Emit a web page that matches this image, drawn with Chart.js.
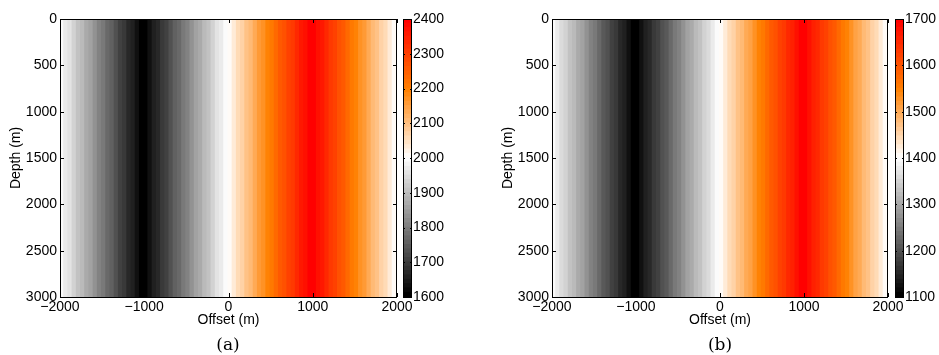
<!DOCTYPE html>
<html><head><meta charset="utf-8">
<script src="https://cdn.jsdelivr.net/npm/chart.js@4/dist/chart.umd.min.js"></script>
<style>
html,body{margin:0;padding:0;background:#fff;width:939px;height:355px;overflow:hidden;position:relative;}
canvas{position:absolute;top:0;}
.cap{position:absolute;font-family:"DejaVu Serif",serif;font-size:17px;line-height:17px;color:#000;transform:translateX(-50%);white-space:nowrap;}
</style></head><body>
<canvas id="pa" style="left:0px" width="420" height="340"></canvas>
<canvas id="ca" style="left:400px" width="60" height="340"></canvas>
<canvas id="pb" style="left:492px" width="420" height="340"></canvas>
<canvas id="cb" style="left:892px" width="47" height="340"></canvas>
<div class="cap" style="left:228px;top:336px">(a)</div>
<div class="cap" style="left:720px;top:336px">(b)</div>
<script>
// ---- data ----
const offsets = [-1975,-1925,-1875,-1825,-1775,-1725,-1675,-1625,-1575,-1525,-1475,-1425,-1375,-1325,-1275,-1225,-1175,-1125,-1075,-1025,
  -975,-925,-875,-825,-775,-725,-675,-625,-575,-525,-475,-425,-375,-325,-275,-225,-175,-125,-75,-25,
  25,75,125,175,225,275,325,375,425,475,525,575,625,675,725,775,825,875,925,975,
  1025,1075,1125,1175,1225,1275,1325,1375,1425,1475,1525,1575,1625,1675,1725,1775,1825,1875,1925,1975];
const velocityA = [1990,1970,1950,1930,1910,1890,1870,1850,1830,1810,1790,1770,1750,1730,1710,1690,1670,1650,1630,1610,
  1610,1630,1650,1670,1690,1710,1730,1750,1770,1790,1810,1830,1850,1870,1890,1910,1930,1950,1970,1990,
  2010,2030,2050,2070,2090,2110,2130,2150,2170,2190,2210,2230,2250,2270,2290,2310,2330,2350,2370,2390,
  2390,2370,2350,2330,2310,2290,2270,2250,2230,2210,2190,2170,2150,2130,2110,2090,2070,2050,2030,2010];
const velocityB = [1392,1378,1362,1348,1332,1318,1302,1288,1272,1258,1242,1228,1212,1198,1182,1168,1152,1138,1122,1108,
  1108,1122,1138,1152,1168,1182,1198,1212,1228,1242,1258,1272,1288,1302,1318,1332,1348,1362,1378,1392,
  1408,1422,1438,1452,1468,1482,1498,1512,1528,1542,1558,1572,1588,1602,1618,1632,1648,1662,1678,1692,
  1692,1678,1662,1648,1632,1618,1602,1588,1572,1558,1542,1528,1512,1498,1482,1468,1452,1438,1422,1408];
const depthRange = [0, 3000];
const offsetRange = [-2000, 2000];
const offsetTicks = [-2000, -1000, 0, 1000, 2000];
const depthTicks = [0, 500, 1000, 1500, 2000, 2500, 3000];
const colorRangeA = [1600, 2400];
const colorRangeB = [1100, 1700];
const colorTicksA = [1600, 1700, 1800, 1900, 2000, 2100, 2200, 2300, 2400];
const colorTicksB = [1100, 1200, 1300, 1400, 1500, 1600, 1700];
const NLEV = 64;

Chart.defaults.color = '#000';
Chart.defaults.font.family = '"Liberation Sans", Arial, Helvetica, sans-serif';
Chart.defaults.font.size = 14;

function levelColor(k) {
  const u = k / (NLEV - 1);
  if (u <= 0.5) { const g = Math.round(255 * u / 0.5); return `rgb(${g},${g},${g})`; }
  const t = (u - 0.5) / 0.5;
  return `rgb(255,${Math.round(255 * (1 - t))},${Math.round(255 * Math.max(0, 1 - 2 * t))})`;
}
function valueColor(v, range) {
  const u = (v - range[0]) / (range[1] - range[0]);
  const k = Math.max(0, Math.min(NLEV - 1, Math.floor(u * NLEV)));
  return levelColor(k);
}
const fmt = v => v < 0 ? '\u2212' + Math.abs(v) : String(v);

const framePlugin = {
  id: 'frame',
  afterDraw(chart, args, opts) {
    const { ctx, chartArea: a } = chart;
    ctx.save();
    ctx.strokeStyle = '#000'; ctx.lineWidth = 1;
    ctx.beginPath();
    const L = opts.len;
    if (opts.xTicks) {
      const xs = chart.scales.x;
      opts.xTicks.forEach(v => {
        const p = Math.round(xs.getPixelForValue(v)) + 0.5;
        ctx.moveTo(p, a.bottom); ctx.lineTo(p, a.bottom - L);
        ctx.moveTo(p, a.top); ctx.lineTo(p, a.top + L);
      });
    }
    const ys = chart.scales.y;
    opts.yTicks.forEach(v => {
      const p = Math.round(ys.getPixelForValue(v)) + 0.5;
      ctx.moveTo(a.left, p); ctx.lineTo(a.left + L, p);
      ctx.moveTo(a.right, p); ctx.lineTo(a.right - L, p);
    });
    ctx.stroke();
    ctx.strokeRect(Math.round(a.left) + 0.5, Math.round(a.top) + 0.5, Math.round(a.right - a.left) - 1, Math.round(a.bottom - a.top));
    ctx.restore();
  }
};

function heatmap(id, values, range, padRight) {
  new Chart(document.getElementById(id), {
    type: 'bar',
    data: {
      datasets: [{
        data: offsets.map(x => ({ x: x, y: depthRange.slice() })),
        backgroundColor: values.map(v => valueColor(v, range)),
        borderWidth: 0, barPercentage: 1.5, categoryPercentage: 1
      }]
    },
    options: {
      responsive: false, animation: false, events: [],
      layout: { padding: { left: 0, right: padRight, top: 19, bottom: 0 } },
      plugins: { legend: { display: false }, tooltip: { enabled: false },
        frame: { len: 4, xTicks: offsetTicks, yTicks: depthTicks } },
      scales: {
        x: {
          type: 'linear', min: offsetRange[0], max: offsetRange[1], offset: false,
          afterBuildTicks: s => { s.ticks = offsetTicks.map(v => ({ value: v })); },
          afterFit: s => { s.height = 43; s.paddingLeft = 0; s.paddingRight = 0; },
          grid: { display: false, drawTicks: false, tickLength: 0, offset: false },
          border: { display: false },
          ticks: { padding: 2, maxRotation: 0, autoSkip: false, callback: v => fmt(v) },
          title: { display: true, text: 'Offset (m)', padding: { top: 0, bottom: 11.6 } }
        },
        y: {
          type: 'linear', min: depthRange[0], max: depthRange[1], reverse: true,
          afterBuildTicks: s => { s.ticks = depthTicks.map(v => ({ value: v })); },
          afterFit: s => { s.width = 60; s.paddingTop = 0; s.paddingBottom = 0; },
          grid: { display: false, drawTicks: false, tickLength: 0 },
          border: { display: false },
          ticks: { padding: 3, autoSkip: false, callback: v => fmt(v) },
          title: { display: true, text: 'Depth (m)', padding: { top: 7.6, bottom: 0 } }
        }
      }
    },
    plugins: [framePlugin]
  });
}

function colorbar(id, range, ticks, axisWidth) {
  const step = (range[1] - range[0]) / NLEV;
  const datasets = [];
  for (let k = 0; k < NLEV; k++) {
    const lo = range[0] + k * step;
    const hi = Math.min(range[1], lo + step * 1.1);
    datasets.push({ data: [[lo, hi]], backgroundColor: levelColor(k), borderWidth: 0,
      grouped: false, barPercentage: 1, categoryPercentage: 1 });
  }
  new Chart(document.getElementById(id), {
    type: 'bar',
    data: { labels: [''], datasets: datasets },
    options: {
      responsive: false, animation: false, events: [],
      layout: { padding: { left: 3, right: 0, top: 19, bottom: 43 } },
      plugins: { legend: { display: false }, tooltip: { enabled: false },
        frame: { len: 2, yTicks: ticks } },
      scales: {
        x: { display: false },
        y: {
          type: 'linear', position: 'right', min: range[0], max: range[1],
          afterBuildTicks: s => { s.ticks = ticks.map(v => ({ value: v })); },
          afterFit: s => { s.width = axisWidth; s.paddingTop = 0; s.paddingBottom = 0; },
          grid: { display: false, drawTicks: false, tickLength: 0 },
          border: { display: false },
          ticks: { padding: 1, autoSkip: false, callback: v => String(v) }
        }
      }
    },
    plugins: [framePlugin]
  });
}

heatmap('pa', velocityA, colorRangeA, 23);
colorbar('ca', colorRangeA, colorTicksA, 48);
heatmap('pb', velocityB, colorRangeB, 24);
colorbar('cb', colorRangeB, colorTicksB, 35);
</script>
</body></html>
